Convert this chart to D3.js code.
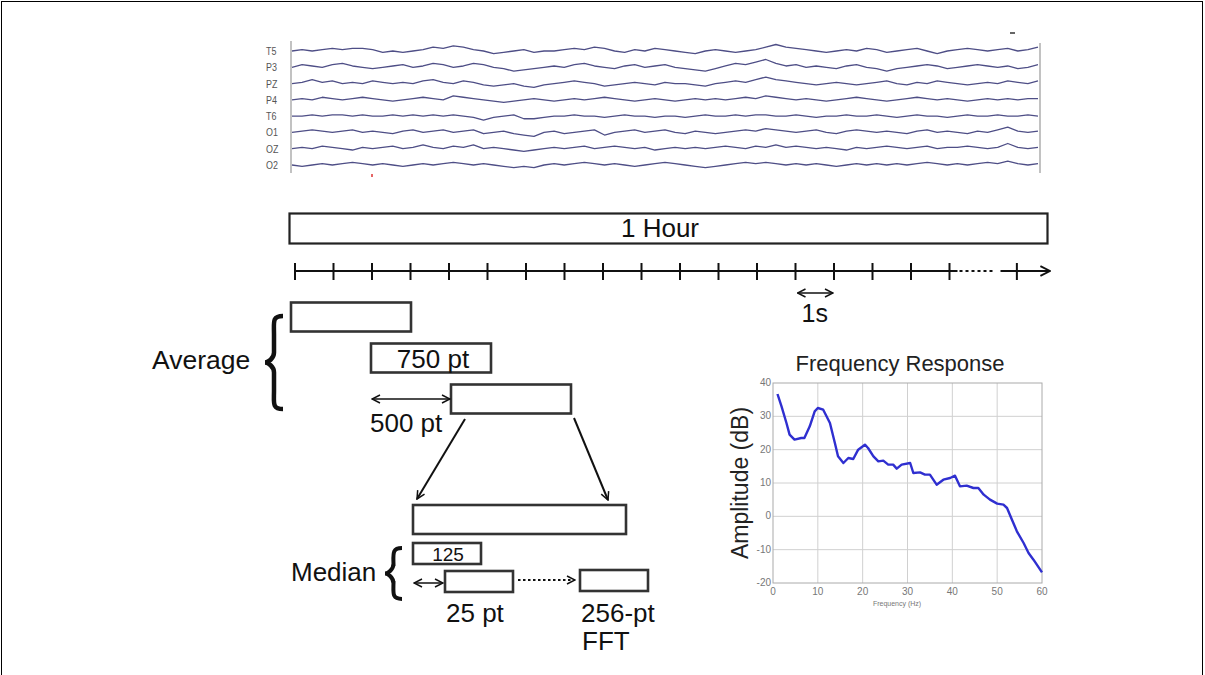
<!DOCTYPE html>
<html>
<head>
<meta charset="utf-8">
<script src="https://cdn.jsdelivr.net/npm/d3@7"></script>
<style>
  body { margin: 0; background: #fff; }
  svg { display: block; }
  text { font-family: "Liberation Sans", Arial, sans-serif; fill: #111; }
</style>
</head>
<body>
<svg id="chart" width="1205" height="675"></svg>
<script>
// EEG channels (offsets in px, up is positive, sampled left to right)
const channels = ["T5", "P3", "PZ", "P4", "T6", "O1", "OZ", "O2"];
const eegT5 = [0,1,0,1,2,1,2,2,1,-1,0,-1,0,1,3, 2,4,3,1,0,-2,-1,0,1,-1,0,0,1,2,1, 3,2,0,-1,1,0,2,1,0,-1,-2,0,1,0,-1, 0,1,3,5,3,2,1,0,-1,0,1,0,2,1,-1, 0,1,2,0,-2,0,1,2,1,0,1,2,0,1,3];
const eegP3 = [0,2,1,0,2,3,1,0,-1,0,1,2,0,1,3, 2,0,1,3,2,0,-1,-3,-2,-1,0,1,0,2,3, 1,0,-1,1,2,0,1,2,0,-1,-2,-3,-1,1,3, 2,4,6,3,1,2,0,1,0,-1,1,2,0,-1,-3, -1,0,1,2,1,-1,0,1,2,1,0,1,-1,0,2];
const eegPZ = [0,1,3,1,2,0,1,0,2,1,0,1,0,2,3, 1,0,2,1,-1,-2,-1,0,-2,-3,-1,0,1,2,1, 0,-2,-1,0,1,0,-1,1,0,0,-1,-2,0,1,2, 1,3,5,3,2,1,0,-1,0,1,0,-1,0,1,2, 0,-1,1,0,2,1,0,-1,0,1,0,2,1,0,2];
const eegP4 = [0,1,0,2,1,0,1,2,1,0,-1,0,1,2,1, 0,3,2,1,0,-1,-2,-1,0,1,0,-1,0,1,0, 1,2,1,0,-1,0,1,0,-1,0,1,0,1,0,1, 2,1,3,2,1,0,1,0,-1,0,1,2,1,0,-1, 0,1,2,1,0,1,0,-1,0,1,0,1,0,1,1];
const eegT6 = [0,0,1,0,1,1,0,1,0,0,1,0,1,0,1, 0,1,0,-1,-3,-1,0,1,-2,-2,-1,0,0,1,0, 0,-1,0,1,0,0,-1,0,0,-1,0,1,0,0,1, 0,1,1,0,0,1,0,-1,0,0,1,0,0,1,0, -1,0,1,0,0,-1,0,1,0,0,1,0,0,1,0];
const eegO1 = [0,1,2,1,0,1,2,0,1,0,-1,1,2,0,1, 2,0,1,2,-1,0,1,-1,-2,-3,0,1,-1,0,1, 2,-2,0,1,2,0,1,2,0,-1,1,0,-1,0,1, 2,1,3,2,1,0,1,2,0,-1,1,2,1,0,1, 0,-1,1,2,0,1,0,-1,1,0,2,4,1,0,1];
const eegOZ = [0,1,0,2,1,0,-1,1,0,1,2,0,1,3,1, 0,2,1,3,0,1,0,-1,-2,-1,0,1,0,1,2, 0,1,2,1,0,1,-1,0,1,0,1,0,1,2,1, 0,2,1,3,1,2,1,0,1,0,-1,1,0,1,2, 1,0,1,2,0,1,1,2,1,0,1,4,1,0,1];
const eegO2 = [0,-1,0,1,0,1,2,1,0,1,0,-1,0,1,0, 1,2,1,0,1,0,-1,-2,-1,-2,0,1,0,1,2, 1,0,1,0,-1,0,1,2,1,0,-1,-2,-1,0,1, 2,1,2,1,0,1,0,1,0,-1,0,1,0,1,0, 1,0,1,2,1,0,1,0,1,2,1,3,1,0,1];
const eegSeries = [eegT5, eegP3, eegPZ, eegP4, eegT6, eegO1, eegOZ, eegO2];

// timeline: one tick per second, then a break and one more tick
const seconds = d3.range(0, 18);
const lastSecond = 18.75;

// windows in points
const avgStarts = [0, 500, 1000];
const avgWidth = 750;

// frequency response
const freq = [1,1.9,3,3.7,4.8,6.3,7,8.2,9.3,10,11.2,12.7,13.8,14.5,15.7,16.8,17.9,19,20.5,21.2,22.4,23.5,24.6,25.7,26.8,27.6,28.7,30.6,31.3,32.8,33.9,35,36.5,38,39.5,40.6,41.7,43.2,44.7,45.8,47,48.4,50,51.4,52.2,53.3,54.4,55.9,57,58.1,60];
const amp = [36.7,33,28,24.5,23,23.5,23.5,27,31.5,32.5,32,28,22,18,16,17.5,17.2,20,21.5,20.5,18,16.5,16.7,15.5,15.5,14.3,15.5,16,13,13.2,12.5,12.5,9.5,11,11.5,12.2,9,9.2,8.5,8.5,6.5,5,3.8,3.5,2.5,-1,-4.5,-8,-11,-13,-16.8];
const freqTicks = [0, 10, 20, 30, 40, 50, 60];
const ampTicks = [-20, -10, 0, 10, 20, 30, 40];

const svg = d3.select("#chart");

const defs = svg.append("defs");
defs.append("marker")
  .attr("id", "open")
  .attr("viewBox", "0 0 10 10")
  .attr("refX", 9).attr("refY", 5)
  .attr("markerWidth", 10).attr("markerHeight", 10)
  .attr("markerUnits", "userSpaceOnUse")
  .attr("orient", "auto-start-reverse")
  .append("path")
  .attr("d", "M1,1 L9,5 L1,9")
  .attr("fill", "none").attr("stroke", "#111").attr("stroke-width", 1.5);
defs.append("marker")
  .attr("id", "tl")
  .attr("viewBox", "0 0 10 10")
  .attr("refX", 9).attr("refY", 5)
  .attr("markerWidth", 12).attr("markerHeight", 12)
  .attr("markerUnits", "userSpaceOnUse")
  .attr("orient", "auto")
  .append("path")
  .attr("d", "M1,1 L9,5 L1,9")
  .attr("fill", "none").attr("stroke", "#111").attr("stroke-width", 1.6);

// outer frame
svg.append("rect")
  .attr("x", 1.5).attr("y", 1.5).attr("width", 1201).attr("height", 720)
  .attr("fill", "none").attr("stroke", "#000").attr("stroke-width", 1);

// Draw EEG traces
const eegX = d3.scaleLinear().domain([0, 1]).range([292, 1038]);
const eegY = d3.scalePoint().domain(channels).range([51, 165]);
const eegAmp = d3.scaleLinear().domain([0, 1]).range([0, 1.3]);
const eeg = svg.append("g");

eeg.selectAll("text")
  .data(channels)
  .enter()
  .append("text")
  .attr("x", 266)
  .attr("y", (d) => eegY(d) + 4)
  .attr("font-size", 10.5)
  .attr("transform", (d) => `translate(${266 * 0.15}, 0) scale(0.85, 1)`)
  .style("fill", "#555")
  .text((d) => d);

eeg.append("line")
  .attr("x1", 291).attr("x2", 291).attr("y1", 41).attr("y2", 173)
  .attr("stroke", "#999").attr("stroke-width", 1.2);
eeg.append("line")
  .attr("x1", 1040).attr("x2", 1040).attr("y1", 43).attr("y2", 173)
  .attr("stroke", "#999").attr("stroke-width", 1.2);

eeg.selectAll("path.trace")
  .data(eegSeries)
  .enter()
  .append("path")
  .attr("class", "trace")
  .attr("fill", "none")
  .attr("stroke", "#4e4e86")
  .attr("stroke-width", 1.3)
  .attr("stroke-linejoin", "round")
  .attr("d", (vals, i) =>
    d3.line()
      .x((_, j) => eegX(j / (vals.length - 1)))
      .y((v) => eegY(channels[i]) - eegAmp(v))(vals)
  );

svg.append("line")
  .attr("x1", 372).attr("x2", 372).attr("y1", 174).attr("y2", 177)
  .attr("stroke", "#d33").attr("stroke-width", 1.5);
svg.append("line")
  .attr("x1", 1010).attr("x2", 1015).attr("y1", 33).attr("y2", 33)
  .attr("stroke", "#333").attr("stroke-width", 1.5);

// 1 Hour box
svg.append("rect")
  .attr("x", 289.5).attr("y", 213.5).attr("width", 758).attr("height", 30)
  .attr("fill", "none").attr("stroke", "#222").attr("stroke-width", 2.2);
svg.append("text")
  .attr("x", 660).attr("y", 237).attr("text-anchor", "middle")
  .attr("font-size", 26).text("1 Hour");

// timeline
const secX = d3.scaleLinear().domain([0, 1]).range([295, 333.5]);
const tl = svg.append("g").attr("stroke", "#111").attr("stroke-width", 2);
tl.append("line").attr("x1", secX(0)).attr("x2", secX(17) + 8).attr("y1", 271).attr("y2", 271);
tl.append("line").attr("x1", secX(17) + 10).attr("x2", secX(17) + 46).attr("y1", 271).attr("y2", 271)
  .attr("stroke-dasharray", "3,3").attr("stroke-width", 2);
tl.append("line").attr("x1", secX(17) + 51).attr("x2", 1050).attr("y1", 271).attr("y2", 271)
  .attr("marker-end", "url(#tl)");
tl.selectAll("line.tick")
  .data(seconds.concat([lastSecond]))
  .enter()
  .append("line")
  .attr("class", "tick")
  .attr("x1", (d) => secX(d)).attr("x2", (d) => secX(d))
  .attr("y1", 263).attr("y2", 280);

// 1s marker
svg.append("line")
  .attr("x1", secX(13) + 2).attr("x2", secX(14) - 1).attr("y1", 293).attr("y2", 293)
  .attr("stroke", "#111").attr("stroke-width", 1.5)
  .attr("marker-start", "url(#open)").attr("marker-end", "url(#open)");
svg.append("text")
  .attr("x", (secX(13) + secX(14)) / 2).attr("y", 322).attr("text-anchor", "middle")
  .attr("font-size", 25).text("1s");

// averaging windows
const ptX = d3.scaleLinear().domain([0, 750]).range([291, 411]);
svg.selectAll("rect.avg")
  .data(avgStarts)
  .enter()
  .append("rect")
  .attr("class", "avg")
  .attr("x", (d) => ptX(d)).attr("y", (_, i) => 302.5 + i * 41)
  .attr("width", (d) => ptX(d + avgWidth) - ptX(d)).attr("height", 29)
  .attr("fill", "none").attr("stroke", "#333").attr("stroke-width", 2.6);
svg.append("text")
  .attr("x", (ptX(500) + ptX(1250)) / 2 + 2).attr("y", 368).attr("text-anchor", "middle")
  .attr("font-size", 26).text("750 pt");
svg.append("line")
  .attr("x1", ptX(500) + 1).attr("x2", ptX(1000) - 1).attr("y1", 399).attr("y2", 399)
  .attr("stroke", "#111").attr("stroke-width", 1.5)
  .attr("marker-start", "url(#open)").attr("marker-end", "url(#open)");
svg.append("text")
  .attr("x", 370).attr("y", 432).attr("font-size", 26).text("500 pt");
svg.append("text")
  .attr("x", 152).attr("y", 369).attr("font-size", 26.5).text("Average");

const brace = (x, top, bottom, w) => {
  const m = (top + bottom) / 2;
  const xi = x - w * 0.5;
  return `M${x},${top} C${xi - 2},${top} ${xi},${top + 6} ${xi},${top + 18} L${xi},${m - 10} C${xi},${m - 4} ${x - w + 3},${m} ${x - w},${m} C${x - w + 3},${m} ${xi},${m + 4} ${xi},${m + 10} L${xi},${bottom - 18} C${xi},${bottom - 6} ${xi - 2},${bottom} ${x},${bottom}`;
};
svg.append("path").attr("d", brace(283, 316, 409, 18))
  .attr("fill", "none").attr("stroke", "#111").attr("stroke-width", 4.5);
svg.append("path").attr("d", brace(402, 548, 599, 17))
  .attr("fill", "none").attr("stroke", "#111").attr("stroke-width", 4);

// arrows to the expanded window
svg.append("line").attr("x1", 465).attr("y1", 419).attr("x2", 417).attr("y2", 499)
  .attr("stroke", "#111").attr("stroke-width", 2).attr("marker-end", "url(#open)");
svg.append("line").attr("x1", 574).attr("y1", 418).attr("x2", 608).attr("y2", 500)
  .attr("stroke", "#111").attr("stroke-width", 2).attr("marker-end", "url(#open)");

// expanded window and median windows
const boxes = [
  { x: 413, y: 505, w: 213, h: 29 },
  { x: 413, y: 543, w: 68, h: 21 },
  { x: 445, y: 571, w: 68, h: 21 },
  { x: 580, y: 570, w: 68, h: 21 },
];
svg.selectAll("rect.med")
  .data(boxes)
  .enter()
  .append("rect")
  .attr("class", "med")
  .attr("x", (d) => d.x).attr("y", (d) => d.y)
  .attr("width", (d) => d.w).attr("height", (d) => d.h)
  .attr("fill", "none").attr("stroke", "#333").attr("stroke-width", 2.6);
svg.append("text")
  .attr("x", 448).attr("y", 561).attr("text-anchor", "middle")
  .attr("font-size", 19).text("125");
svg.append("line").attr("x1", 414).attr("x2", 443).attr("y1", 583).attr("y2", 583)
  .attr("stroke", "#111").attr("stroke-width", 1.5)
  .attr("marker-start", "url(#open)").attr("marker-end", "url(#open)");
svg.append("line").attr("x1", 518).attr("x2", 575).attr("y1", 580).attr("y2", 580)
  .attr("stroke", "#111").attr("stroke-width", 2).attr("stroke-dasharray", "2.5,2.5")
  .attr("marker-end", "url(#open)");
svg.append("text").attr("x", 291).attr("y", 581).attr("font-size", 26).text("Median");
svg.append("text").attr("x", 446).attr("y", 622).attr("font-size", 26).text("25 pt");
svg.append("text").attr("x", 581).attr("y", 622).attr("font-size", 26).text("256-pt");
svg.append("text").attr("x", 582).attr("y", 650).attr("font-size", 26).text("FFT");

// Frequency response plot
const fx = d3.scaleLinear().domain([0, 60]).range([773, 1042]);
const fy = d3.scaleLinear().domain([-20, 40]).range([583, 383]);
const fr = svg.append("g");

fr.append("g")
  .selectAll("line")
  .data(freqTicks.slice(1, -1))
  .enter()
  .append("line")
  .attr("x1", (d) => fx(d)).attr("x2", (d) => fx(d))
  .attr("y1", fy(40)).attr("y2", fy(-20))
  .attr("stroke", "#d0d0d0").attr("stroke-width", 1);
fr.append("g")
  .selectAll("line")
  .data(ampTicks.slice(1, -1))
  .enter()
  .append("line")
  .attr("x1", fx(0)).attr("x2", fx(60))
  .attr("y1", (d) => fy(d)).attr("y2", (d) => fy(d))
  .attr("stroke", "#d0d0d0").attr("stroke-width", 1);
fr.append("rect")
  .attr("x", fx(0)).attr("y", fy(40))
  .attr("width", fx(60) - fx(0)).attr("height", fy(-20) - fy(40))
  .attr("fill", "none").attr("stroke", "#aaa").attr("stroke-width", 1);

fr.selectAll("text.xt")
  .data(freqTicks)
  .enter()
  .append("text")
  .attr("class", "xt")
  .attr("x", (d) => fx(d)).attr("y", fy(-20) + 12)
  .attr("text-anchor", "middle").attr("font-size", 10)
  .style("fill", "#777").text((d) => d);
fr.selectAll("text.yt")
  .data(ampTicks)
  .enter()
  .append("text")
  .attr("class", "yt")
  .attr("x", fx(0) - 2).attr("y", (d) => fy(d) + 3)
  .attr("text-anchor", "end").attr("font-size", 10)
  .style("fill", "#777").text((d) => d);

fr.append("path")
  .datum(freq.map((f, i) => [f, amp[i]]))
  .attr("fill", "none")
  .attr("stroke", "#2f2fd0")
  .attr("stroke-width", 2.4)
  .attr("stroke-linejoin", "round")
  .attr("d", d3.line().x((d) => fx(d[0])).y((d) => fy(d[1])));

fr.append("text")
  .attr("x", 900).attr("y", 371).attr("text-anchor", "middle")
  .attr("font-size", 22).style("fill", "#222").text("Frequency Response");
fr.append("text")
  .attr("transform", `translate(748, ${(fy(40) + fy(-20)) / 2}) rotate(-90)`)
  .attr("text-anchor", "middle").attr("font-size", 23)
  .style("fill", "#222").text("Amplitude (dB)");
fr.append("text")
  .attr("x", 897).attr("y", 606).attr("text-anchor", "middle")
  .attr("font-size", 7).style("fill", "#777").text("Frequency (Hz)");
</script>
</body>
</html>
